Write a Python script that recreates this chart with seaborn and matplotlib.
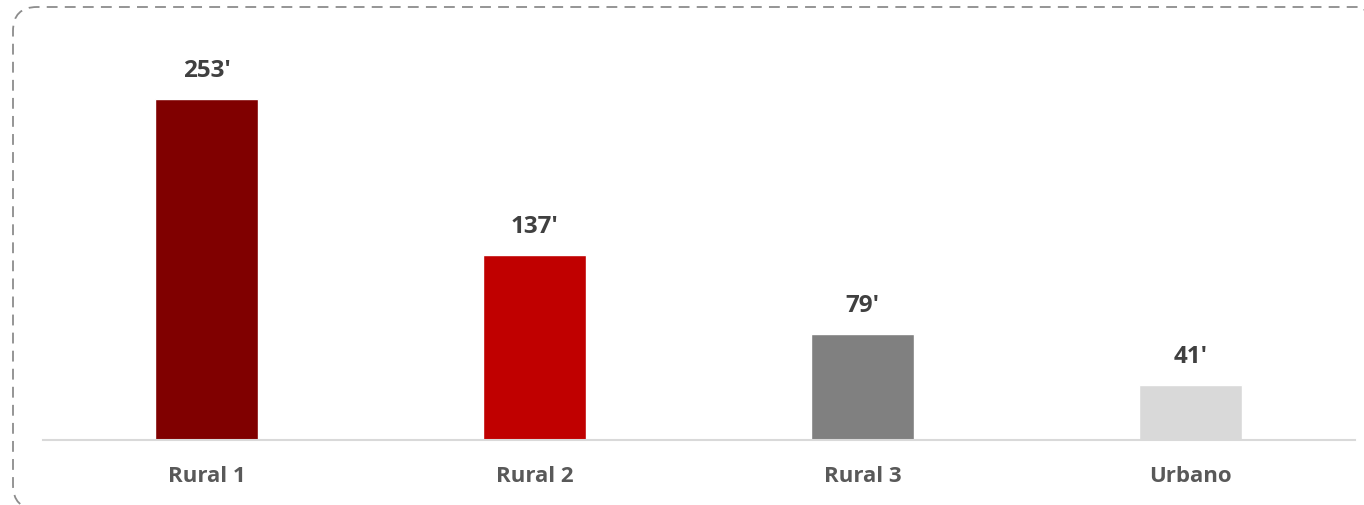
import matplotlib
matplotlib.use("Agg")
import matplotlib.pyplot as plt
import seaborn as sns
import pandas as pd
from matplotlib.patches import FancyBboxPatch

categories = ["Rural 1", "Rural 2", "Rural 3", "Urbano"]
values = [253, 137, 79, 41]
labels = ["253'", "137'", "79'", "41'"]
colors = ["#800000", "#C00000", "#808080", "#D9D9D9"]

sns.set_theme(style="white")
plt.rcParams["font.family"] = ["Open Sans", "DejaVu Sans"]

W, H = 1364, 506
fig = plt.figure(figsize=(W / 100, H / 100), dpi=100)
ax = fig.add_axes([42.5 / W, 1 - 441 / H, (1354.5 - 42.5) / W, (441 - 30) / H])

df = pd.DataFrame({"cat": categories, "val": values})
sns.barplot(data=df, x="cat", y="val", hue="cat", palette=colors, legend=False,
            width=103 / 328, ax=ax, saturation=1)

scale = 341 / 253
ax.set_ylim(0, 411 / scale)
ax.set_xlim(-0.5, len(categories) - 0.5)

for i, (v, lab) in enumerate(zip(values, labels)):
    ax.annotate(lab, (i, v), xytext=(0, 17 * 0.72), textcoords="offset points",
                ha="center", va="bottom", fontsize=17.5, fontweight="bold", color="#404040")

for s in ["top", "left", "right"]:
    ax.spines[s].set_visible(False)
ax.spines["bottom"].set_color("#D9D9D9")
ax.spines["bottom"].set_linewidth(1.5)
ax.set_yticks([])
ax.set_xlabel("")
ax.set_ylabel("")
ax.tick_params(axis="x", length=0, pad=18)
for t in ax.get_xticklabels():
    t.set_fontsize(16)
    t.set_fontweight("bold")
    t.set_color("#595959")

# dashed rounded border
border = FancyBboxPatch((13, -4), 1372, 502, boxstyle="round,pad=0,rounding_size=24",
                        transform=None, fill=False, edgecolor="#8C8C8C",
                        linewidth=1.3, linestyle=(0, (6, 4)))
fig.patches.append(border)

fig.savefig("out.png", dpi=100)
